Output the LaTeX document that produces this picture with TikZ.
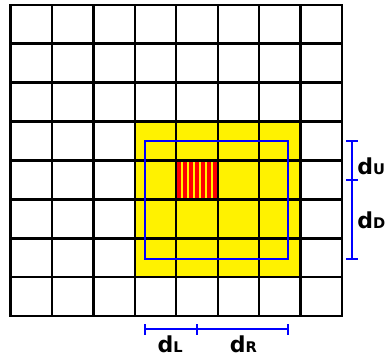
\documentclass[tikz,border=0pt]{standalone}
\usepackage{fontspec}
\setmainfont{DejaVu Sans}
\usepackage{tikz}
\usetikzlibrary{positioning,arrows.meta,calc}

\newcommand{\dimtext}[1]{{\fontsize{16.5}{16.5}\selectfont\bfseries d}{\fontsize{11}{11}\selectfont\bfseries #1}}

\begin{document}
\begin{tikzpicture}[
  x=31.05pt, y=29.2pt,
  gridline/.style={draw=black, line width=1.8pt},
  window/.style={draw=blue, line width=1.6pt},
  dimline/.style={draw=blue, line width=1.5pt},
  dimtick/.style={draw=blue, line width=1.5pt},
  stripe/.style={draw=yellow, line width=1.1pt},
  dimlbl/.style={inner sep=0pt, anchor=center},
]
\useasboundingbox (-0.258,-1.082) rectangle (9.089,8.121);

% neighbourhood region
\fill[yellow] (3,1) rectangle (7,5);

% centre cell, red with yellow stripes
\fill[red] (4,3) rectangle (5,4);
\foreach \i in {1,...,6}
  \draw[stripe] ($(4,3)+(\i/7,0)$) -- ++(0,1);

% the 8 x 8 grid
\foreach \k in {1,...,7} {
  \draw[gridline] (\k,0) -- (\k,8);
  \draw[gridline] (0,\k) -- (8,\k);
}
\draw[gridline] (0,0) rectangle (8,8);

% window around the centre cell
\draw[window] (3.25,1.46) rectangle (6.7,4.5);

% horizontal extents below the grid
\coordinate (hl) at (3.25,-0.34);
\coordinate (hm) at (4.5,-0.34);
\coordinate (hr) at (6.7,-0.34);
\draw[dimline] (hl) -- (hm) -- (hr);
\foreach \c in {hl,hm,hr}
  \draw[dimtick] ($(\c)+(0,-0.14)$) -- ($(\c)+(0,0.14)$);
\node[dimlbl] (dl) at (3.85,-0.73) {\dimtext{L}};
\node[dimlbl] (dr) at (5.62,-0.73) {\dimtext{R}};

% vertical extents right of the grid
\coordinate (vt) at (8.25,4.5);
\coordinate (vm) at (8.25,3.5);
\coordinate (vb) at (8.25,1.46);
\draw[dimline] (vt) -- (vm) -- (vb);
\foreach \c in {vt,vm,vb}
  \draw[dimtick] ($(\c)+(-0.14,0)$) -- ($(\c)+(0.14,0)$);
\node[dimlbl] (du) at (8.71,3.84) {\dimtext{U}};
\node[dimlbl] (dd) at (8.71,2.47) {\dimtext{D}};

\end{tikzpicture}
\end{document}
